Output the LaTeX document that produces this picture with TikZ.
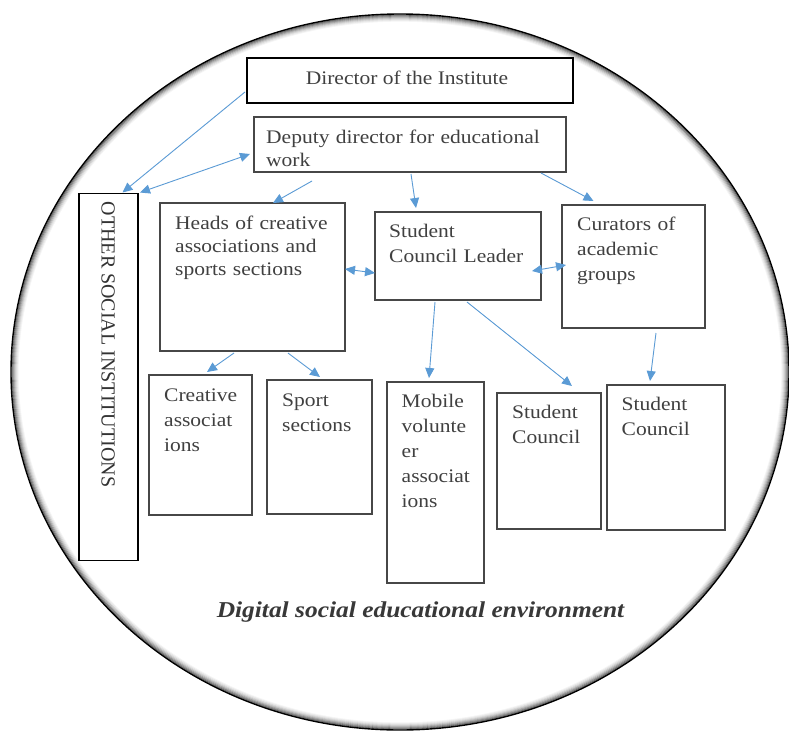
\documentclass[tikz,border=0pt]{standalone}
\usepackage{fontspec}
\setmainfont{Liberation Serif}[FakeStretch=1.12]
\newfontfamily\osifont{Liberation Serif}
\usetikzlibrary{arrows.meta,calc}
\definecolor{arrblue}{HTML}{5B9BD5}
\definecolor{txtc}{HTML}{404040}
\definecolor{boxc}{HTML}{474747}
\definecolor{capc}{HTML}{383838}
\begin{document}
\begin{tikzpicture}[x=1pt,y=-1pt,
  box/.style={draw=boxc, line width=1.2pt, fill=white, inner sep=0pt, outer sep=0pt},
  heavybox/.style={draw=black, line width=1.8pt, fill=white, inner sep=0pt, outer sep=0pt},
  tx/.style={font=\fontsize{19.2}{25}\selectfont, text=txtc, inner sep=0pt, anchor=base west, text width=#1, align=left},
  tx/.default=150pt,
  arr/.style={draw=arrblue, line width=0.9pt, -{Triangle[length=10pt,width=9pt]}},
  darr/.style={draw=arrblue, line width=0.9pt, {Triangle[length=10pt,width=9pt]}-{Triangle[length=10pt,width=9pt]}}
]
\useasboundingbox (0,0) rectangle (789,731);
\fill[white] (0,0) rectangle (789,731);
\begin{scope}
\clip (0,0) rectangle (789,731);
% environment circle with inner shadow
\foreach \i/\o in {1/0.5,2/0.38,3/0.28,4/0.19,5/0.12,6/0.07,7/0.04} {
  \draw[black, opacity=\o, line width=1.3pt] (400,372) ellipse [x radius={389-\i}, y radius={358-\i}];
}
\draw[black, line width=1.4pt] (400,372) ellipse [x radius=389, y radius=358];
\end{scope}

% boxes
\node[heavybox, minimum width=326pt, minimum height=45pt] (dir) at (410,80.5) {};
\node[box, minimum width=312pt, minimum height=55pt] (dep) at (410,144.5) {};
\node[heavybox, minimum width=59pt, minimum height=367pt] (osi) at (108.5,377) {};
\node[box, minimum width=185pt, minimum height=148pt] (heads) at (252.5,277) {};
\node[box, minimum width=166pt, minimum height=88pt] (scl) at (458,256) {};
\node[box, minimum width=143pt, minimum height=123pt] (cur) at (633.5,266.5) {};
\node[box, minimum width=103pt, minimum height=140pt] (cre) at (200.5,445) {};
\node[box, minimum width=105pt, minimum height=134pt] (spo) at (319.5,447) {};
\node[box, minimum width=97pt, minimum height=201pt] (mob) at (435.5,482.5) {};
\node[box, minimum width=104pt, minimum height=136pt] (sc1) at (549,461) {};
\node[box, minimum width=118pt, minimum height=145pt] (sc2) at (666,457.5) {};

% texts
\node[font=\fontsize{19.2}{23}\selectfont, text=txtc, inner sep=0pt, anchor=base] (dirt) at ($(dir.center)+(-3,3.5)$) {Director of the Institute};
\begin{scope}
\clip ($(dep.north west)+(1,1)$) rectangle ($(dep.south east)+(-1,-4)$);
\node[tx=300pt, font=\fontsize{19.2}{23}\selectfont] (dept) at ($(dep.north west)+(12,26)$) {Deputy director for educational\\work};
\end{scope}
\node[font=\osifont\fontsize{20}{24}\selectfont, text=black!80, inner sep=0pt, anchor=base, rotate=-90] (osit) at (101.7,344.5) {OTHER SOCIAL INSTITUTIONS};
\node[tx=170pt, font=\fontsize{19.2}{23}\selectfont] (headst) at ($(heads.north west)+(15,26)$) {Heads of creative\\associations and\\sports sections};
\node[tx] (sclt) at ($(scl.north west)+(14,25)$) {Student\\Council Leader};
\node[tx] (curt) at ($(cur.north west)+(15,25)$) {Curators of\\academic\\groups};
\node[tx] (cret) at ($(cre.north west)+(15,26)$) {Creative\\associat\\ions};
\node[tx] (spot) at ($(spo.north west)+(15,26)$) {Sport\\sections};
\node[tx] (mobt) at ($(mob.north west)+(14.5,25)$) {Mobile\\volunte\\er\\associat\\ions};
\node[tx] (sc1t) at ($(sc1.north west)+(15,25)$) {Student\\Council};
\node[tx] (sc2t) at ($(sc2.north west)+(14.5,25)$) {Student\\Council};
\node[font=\fontsize{22.7}{26}\selectfont\bfseries\itshape, text=capc, inner sep=0pt, anchor=base] (cap) at (420.5,617) {Digital social educational environment};

% connectors
\draw[arr] ($(dir.south west)+(-2,-11)$) -- ($(osi.north)+(14,-1)$);
\draw[darr] ($(osi.north east)+(2,-1)$) -- ($(dep.south west)+(-4,-18)$);
\draw[arr] ($(dep.south)+(-98,9)$) -- ($(heads.north)+(20.5,0)$);
\draw[arr] ($(dep.south)+(1,2)$) -- ($(scl.north)+(-42,-4)$);
\draw[arr] ($(dep.south east)+(-25,1)$) -- ($(cur.north)+(-40,-4)$);
\draw[darr] ($(heads.east)+(0,-8)$) -- ($(scl.west)+(0,17)$);
\draw[darr] ($(scl.east)+(-9,15)$) -- ($(cur.west)+(4,-1.5)$);
\draw[arr] ($(scl.south)+(-23,2)$) -- ($(mob.north)+(-6.5,-4)$);
\draw[arr] ($(scl.south)+(9,2)$) -- ($(sc1.north)+(23,-7)$);
\draw[arr] ($(cur.south)+(22.5,5)$) -- ($(sc2.north)+(-16,-4)$);
\draw[arr] ($(heads.south)+(-18.5,2)$) -- ($(cre.north)+(6.5,-3)$);
\draw[arr] ($(heads.south)+(35.5,2)$) -- ($(spo.north)+(0.5,-3)$);
\end{tikzpicture}
\end{document}
